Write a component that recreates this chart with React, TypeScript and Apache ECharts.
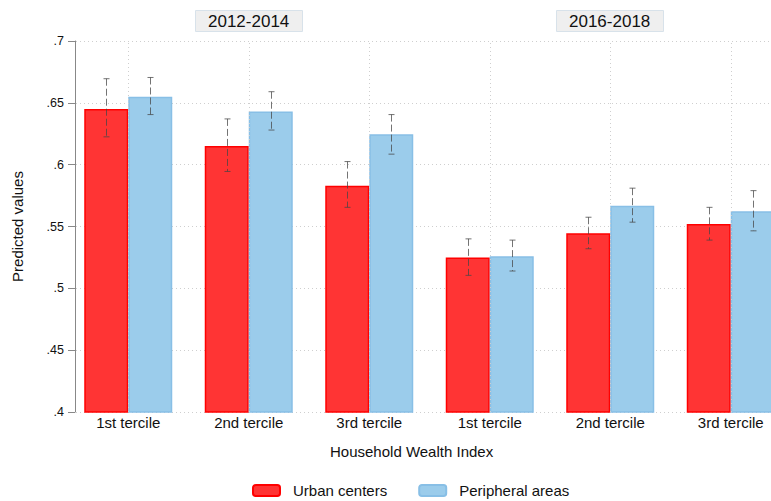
import React, { useEffect, useRef } from "react";
import * as echarts from "echarts";

const categories = ["1st tercile", "2nd tercile", "3rd tercile", "1st tercile", "2nd tercile", "3rd tercile"];
const periods = ["2012-2014", "2016-2018"];
const seriesNames = ["Urban centers", "Peripheral areas"];
const urbanValues = [0.645, 0.615, 0.583, 0.525, 0.5445, 0.552];
const urbanLow = [0.6225, 0.5945, 0.5655, 0.5105, 0.532, 0.539];
const urbanHigh = [0.6695, 0.637, 0.6025, 0.54, 0.5575, 0.5655];
const periphValues = [0.655, 0.643, 0.6245, 0.526, 0.5668, 0.5623];
const periphLow = [0.6405, 0.628, 0.6085, 0.514, 0.5535, 0.5465];
const periphHigh = [0.6705, 0.659, 0.6405, 0.539, 0.581, 0.579];
const yTicks = [0.4, 0.45, 0.5, 0.55, 0.6, 0.65, 0.7];

const FONT = "'Liberation Sans', Arial, Helvetica, sans-serif";
const BAR_W = 44;

function errorSeries(name: string, lows: number[], highs: number[], side: number) {
  return {
    type: "custom",
    name: name + " CI",
    z: 5,
    silent: true,
    data: lows.map((l, i) => [i, l, highs[i]]),
    renderItem: (params: any, api: any) => {
      const top = api.coord([api.value(0), api.value(2)]);
      const bot = api.coord([api.value(0), api.value(1)]);
      const x = Math.round(top[0] + side * BAR_W / 2) + 0.5;
      const style = { stroke: "rgba(70,70,70,0.75)", lineWidth: 1 };
      return {
        type: "group",
        children: [
          { type: "line", shape: { x1: x, y1: top[1], x2: x, y2: bot[1] }, style: { ...style, lineDash: [7, 3] } },
          { type: "line", shape: { x1: x - 3, y1: top[1], x2: x + 3, y2: top[1] }, style },
          { type: "line", shape: { x1: x - 3, y1: bot[1], x2: x + 3, y2: bot[1] }, style },
        ],
      };
    },
  };
}

export default function App() {
  const ref = useRef<HTMLDivElement>(null);
  useEffect(() => {
    if (!ref.current) return;
    const chart = echarts.init(ref.current, null, { renderer: "svg" });
    const stripStyle = {
      top: 10,
      padding: [2, 13, 2, 13],
      backgroundColor: "#efefef",
      borderColor: "#d8e2ea",
      borderWidth: 1,
      textStyle: { fontFamily: FONT, fontSize: 17, fontWeight: "normal", color: "#111", lineHeight: 18 },
    };
    chart.setOption({
      animation: false,
      backgroundColor: "#ffffff",
      title: [
        { ...stripStyle, text: periods[0], left: 195 },
        { ...stripStyle, text: periods[1], left: 556 },
      ],
      legend: {
        left: 247,
        top: 477,
        padding: 5,
        itemWidth: 27,
        itemHeight: 11,
        itemGap: 31,
        data: seriesNames,
        textStyle: { fontFamily: FONT, fontSize: 15, color: "#111", padding: [0, 0, 0, 8], lineHeight: 17 },
      },
      graphic: [
        {
          type: "text",
          left: 330,
          top: 444,
          style: { text: "Household Wealth Index", fontFamily: FONT, fontSize: 15, fill: "#111" },
        },
      ],
      grid: { left: 68, width: 723, top: 41, bottom: 89, containLabel: false, outerBoundsMode: "none" },
      xAxis: {
        type: "category",
        data: categories,
        axisLine: { show: false },
        axisTick: { show: false },
        splitLine: { show: false },
        axisLabel: { fontFamily: FONT, fontSize: 15, color: "#111", margin: 3 },
      },
      yAxis: {
        type: "value",
        min: yTicks[0],
        max: yTicks[yTicks.length - 1],
        interval: 0.05,
        offset: -7,
        name: "Predicted values",
        nameLocation: "middle",
        nameGap: 50,
        nameTextStyle: { fontFamily: FONT, fontSize: 15, color: "#111" },
        axisLine: { show: true, lineStyle: { color: "#888", width: 1 } },
        axisTick: { show: true, length: 7, lineStyle: { color: "#888" } },
        axisLabel: {
          fontFamily: FONT,
          fontSize: 12.5,
          color: "#111",
          margin: 11,
          formatter: (v: number) => {
            const s = String(Math.round(v * 100) / 100);
            return s.replace(/^0/, "");
          },
        },
        splitLine: { show: true, lineStyle: { color: "#cfcfcf", type: [1, 3], width: 1 } },
      },
      series: [
        {
          type: "scatter",
          name: "grid",
          data: [],
          z: 0,
          silent: true,
          markLine: {
            silent: true,
            symbol: "none",
            label: { show: false },
            lineStyle: { color: "#cfcfcf", type: [1, 3], width: 1 },
            data: categories.map((_, i) => ({ xAxis: i })),
          },
        },
        {
          type: "bar",
          name: seriesNames[0],
          data: urbanValues,
          barWidth: BAR_W,
          barGap: "0%",
          z: 2,
          itemStyle: { color: "#ff3434", borderColor: "#ff0000", borderWidth: 1.5 },
        },
        {
          type: "bar",
          name: seriesNames[1],
          data: periphValues,
          barWidth: BAR_W,
          barGap: "0%",
          z: 2,
          itemStyle: { color: "#9bcceb", borderColor: "#88bfe6", borderWidth: 1.5 },
        },
        errorSeries(seriesNames[0], urbanLow, urbanHigh, -1),
        errorSeries(seriesNames[1], periphLow, periphHigh, 1),
      ],
    });
    return () => chart.dispose();
  }, []);
  return <div ref={ref} style={{ position: "fixed", left: 0, top: 0, width: 771, height: 501 }} />;
}
